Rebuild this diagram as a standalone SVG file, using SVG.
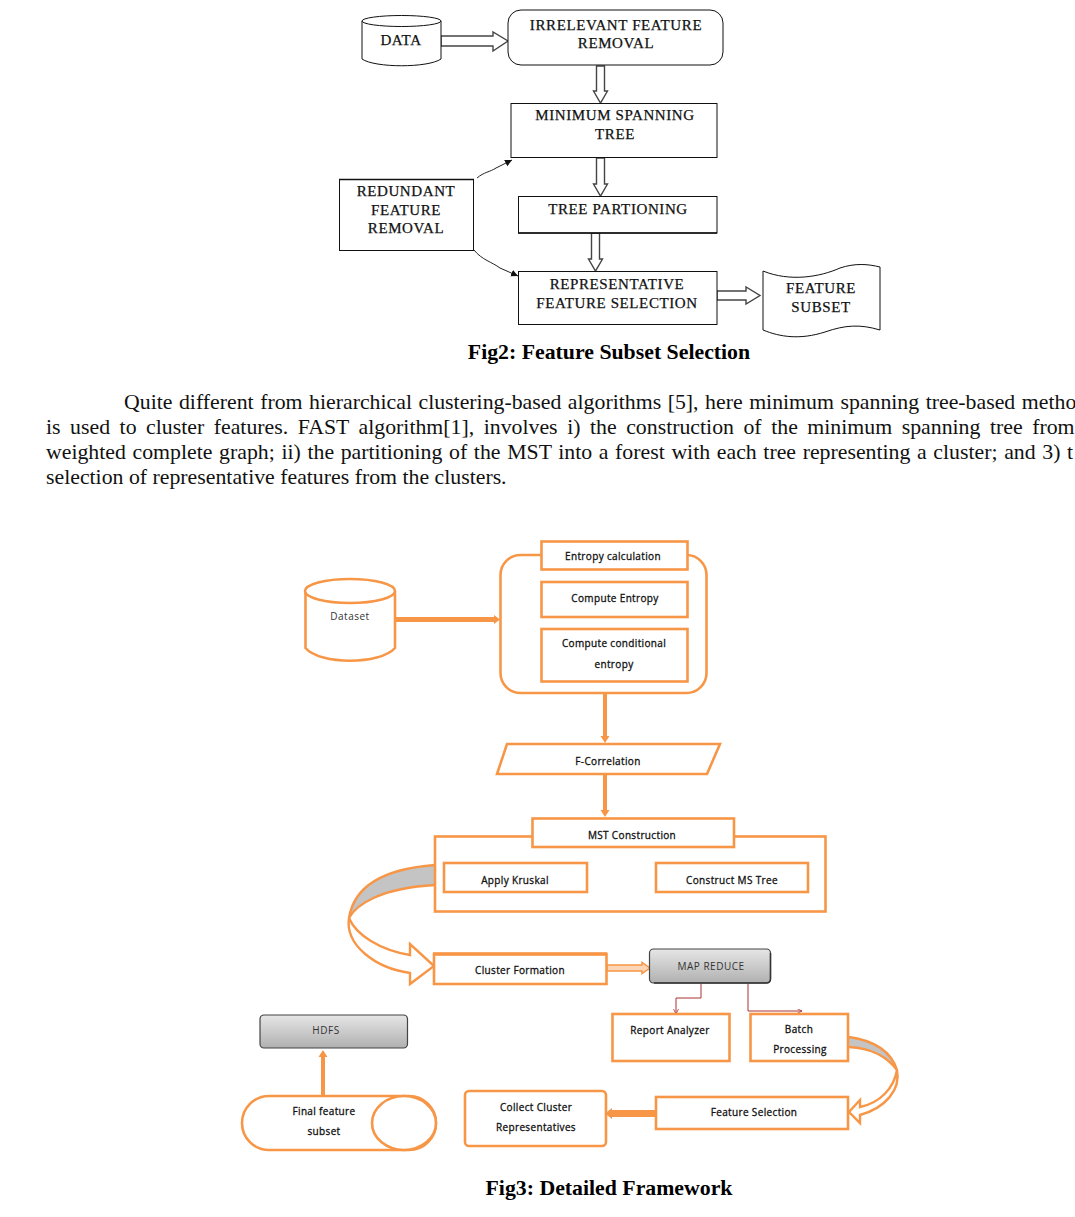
<svg xmlns="http://www.w3.org/2000/svg" width="1075" height="1217" viewBox="0 0 1075 1217">
<style>
.k{fill:#fff;stroke:#111;stroke-width:1}
.ka{fill:#fff;stroke:#444;stroke-width:1.400}
.s{font-family:"Liberation Serif",serif;fill:#111;stroke:#111;stroke-width:.25;text-anchor:middle;font-size:15px;letter-spacing:.6px}
.cap{font-family:"Liberation Serif",serif;font-weight:bold;font-size:21.800px;fill:#000;text-anchor:middle}
.p{font-family:"Liberation Serif",serif;font-size:21.800px;fill:#111}
.o{fill:#fff;stroke:#f79646;stroke-width:2.600}
.of{fill:#f79646;stroke:none}
.g{fill:#c4c4c4;stroke:none}
.c{font-family:"Open Sans","DejaVu Sans",sans-serif;font-size:10px;fill:#111;stroke:#111;stroke-width:.3;text-anchor:middle;letter-spacing:.35px}
.l{font-family:"Open Sans","DejaVu Sans",sans-serif;font-size:10px;fill:#333;text-anchor:middle;letter-spacing:.5px}
.gb{stroke:#444;stroke-width:1.200}
.t{fill:none;stroke:#a33;stroke-width:1}
.band{fill:none;stroke:#f79646;stroke-width:2.400}
</style>
<defs>
<linearGradient id="gr" x1="0" y1="0" x2="0" y2="1"><stop offset="0" stop-color="#e6e6e6"/><stop offset="1" stop-color="#b0b0b0"/></linearGradient>
<marker id="bk" markerWidth="8" markerHeight="8" refX="7" refY="3.500" orient="auto"><path d="M0 0L7 3.500L0 7z" fill="#111"/></marker>
<marker id="rd" markerWidth="6" markerHeight="6" refX="5" refY="2.500" orient="auto"><path d="M0 0L5 2.500L0 5" fill="none" stroke="#a33" stroke-width=".8"/></marker>
</defs>

<g id="connectors">
<path class="ka" d="M441 36H493V32L508 41L493 51V46H441z"/>
<path class="ka" d="M596.500 66H604.500V91H607.500L600.500 103L593.500 91H596.500z"/>
<path class="ka" d="M596.500 158H604.500V184H607.500L600.500 196L593.500 184H596.500z"/>
<path class="ka" d="M591.500 233H599.500V259H602.500L595.500 271L588.500 259H591.500z"/>
<path class="ka" d="M717 291H746V287L760 295.500L746 304V300H717z"/>
<path d="M477 178C484 172 490 172 496 168L512 160" fill="none" stroke="#222" marker-end="url(#bk)"/>
<path d="M474 250C482 260 492 262 500 268L518 276" fill="none" stroke="#222" marker-end="url(#bk)"/>

<path class="of" d="M395 617H494V615L500 619.500L494 624V622H395z"/>
<path class="of" d="M603 693H607V736H609.500L605 743L600.500 736H603z"/>
<path class="of" d="M603 774H607V810H609.500L605 817L600.500 810H603z"/>
<path d="M607 965H642V962.500L650 968L642 973.500V971H607z" fill="#fbd5b5" stroke="#f79646" stroke-width="1.500"/>
<path class="of" d="M321 1095V1057H318.500L323 1050L327.500 1057H325V1095z"/>
<path class="of" d="M656 1110V1117H612V1119L605 1113.500L612 1108V1110z"/>
<path class="t" d="M701 984V998H676V1014" marker-end="url(#rd)"/>
<path class="t" d="M748 984V1011H802" marker-end="url(#rd)"/>

<path class="g" d="M435 865C395 868 355 880 349 918C356 905 380 888 435 885z"/>
<path class="band" d="M435 865C395 868 355 880 349 918C356 905 380 888 435 885M349 918C345 945 375 968 410 973V984L434 966L410 944V955C380 950 356 935 349 918"/>
<path class="g" d="M849 1037C870 1040 890 1048 897 1070C888 1058 872 1048 849 1047z"/>
<path class="band" d="M849 1037C870 1040 890 1048 897 1070C888 1058 872 1048 849 1047M897 1070C901 1090 885 1108 860 1115V1123L849 1112L860 1100V1107C880 1103 894 1088 897 1070"/>
</g>

<g id="data"><path class="k" d="M362 21V59C375 68 428 68 441 59V21"/><ellipse class="k" cx="401.500" cy="21" rx="39.500" ry="5.500"/><text class="s" x="401" y="45">DATA</text></g>
<g id="irrelevant"><rect class="k" x="508" y="10" width="215" height="55" rx="13"/><text class="s" x="616" y="30">IRRELEVANT FEATURE</text><text class="s" x="616" y="48">REMOVAL</text></g>
<g id="mst"><rect class="k" x="511" y="103.500" width="206" height="54"/><text class="s" x="615" y="120">MINIMUM SPANNING</text><text class="s" x="615" y="139">TREE</text></g>
<g id="partition"><rect class="k" x="518.500" y="196.500" width="198.500" height="36.500"/><path d="M518 233H717" stroke="#111" stroke-width="1.500"/><text class="s" x="618" y="214">TREE PARTIONING</text></g>
<g id="redundant"><rect class="k" x="339.500" y="179.500" width="134" height="71"/><path d="M339 179.500H474" stroke="#111" stroke-width="1.500"/><text class="s" x="406" y="196">REDUNDANT</text><text class="s" x="406" y="215">FEATURE</text><text class="s" x="406" y="233">REMOVAL</text></g>
<g id="representative"><rect class="k" x="518.500" y="271.500" width="198.500" height="53"/><text class="s" x="617" y="289">REPRESENTATIVE</text><text class="s" x="617" y="308">FEATURE SELECTION</text></g>
<g id="subset"><path class="k" d="M763 271C790 282 820 277 840 268C855 263 868 264 880 267V330C860 324 845 325 825 332C800 340 780 337 763 330z"/><text class="s" x="821" y="293">FEATURE</text><text class="s" x="821" y="312">SUBSET</text></g>

<text class="cap" x="609" y="359">Fig2: Feature Subset Selection</text>
<text class="p" x="124" y="409" word-spacing="1.100">Quite different from hierarchical clustering-based algorithms [5], here minimum spanning tree-based metho</text>
<text class="p" x="46" y="434" word-spacing="4.100">is used to cluster features. FAST algorithm[1], involves i) the construction of the minimum spanning tree from</text>
<text class="p" x="46" y="459" word-spacing="1.200">weighted complete graph; ii) the partitioning of the MST into a forest with each tree representing a cluster; and 3) t</text>
<text class="p" x="46" y="484">selection of representative features from the clusters.</text>

<g id="dataset"><path class="o" d="M305.500 591V648C320 665 380 665 395 648V591"/><ellipse class="o" cx="350" cy="591" rx="45" ry="12"/><text class="l" x="350" y="620">Dataset</text></g>
<g id="entropy"><rect class="o" x="500.500" y="555" width="206" height="138" rx="20"/></g>
<g id="entropycalc"><rect class="o" x="541.500" y="541.500" width="146" height="28"/><text class="c" x="613" y="560">Entropy calculation</text></g>
<g id="computeentropy"><rect class="o" x="541.500" y="582" width="146" height="35"/><text class="c" x="615" y="602">Compute Entropy</text></g>
<g id="conditional"><rect class="o" x="541.500" y="629" width="146" height="52.500"/><text class="c" x="614" y="647">Compute conditional</text><text class="c" x="614" y="668">entropy</text></g>
<g id="fcorrelation"><path class="o" d="M507 744H720L707 774H497z"/><text class="c" x="608" y="765">F-Correlation</text></g>
<g id="mstcontainer"><rect class="o" x="435" y="836.500" width="390.500" height="75"/></g>
<g id="mstconstruction"><rect class="o" x="532.500" y="818.500" width="201.500" height="28.500"/><text class="c" x="632" y="839">MST Construction</text></g>
<g id="kruskal"><rect class="o" x="444" y="863" width="143" height="29"/><text class="c" x="515" y="884">Apply Kruskal</text></g>
<g id="mstree"><rect class="o" x="656" y="863" width="152" height="29"/><text class="c" x="732" y="884">Construct MS Tree</text></g>
<g id="cluster"><rect class="o" x="434" y="954" width="172.500" height="30"/><path d="M433 954H607" stroke="#f79646" stroke-width="3.500"/><text class="c" x="520" y="974">Cluster Formation</text></g>
<g id="mapreduce"><rect x="649.500" y="949" width="121" height="34" rx="4" fill="url(#gr)" class="gb"/><path d="M770.500 953V979Q770.500 983 766 983H654" fill="none" stroke="#333" stroke-width="1.500"/><text class="l" x="711" y="970">MAP REDUCE</text></g>
<g id="report"><rect class="o" x="612.500" y="1014" width="117" height="47"/><text class="c" x="670" y="1034">Report Analyzer</text></g>
<g id="batch"><rect class="o" x="750.500" y="1014" width="97.500" height="47"/><text class="c" x="799" y="1033">Batch</text><text class="c" x="800" y="1053">Processing</text></g>
<g id="featureselection"><rect class="o" x="656" y="1097" width="192" height="32"/><text class="c" x="754" y="1116">Feature Selection</text></g>
<g id="collect"><rect class="o" x="465" y="1091" width="141" height="55" rx="4"/><text class="c" x="536" y="1111">Collect Cluster</text><text class="c" x="536" y="1131">Representatives</text></g>
<g id="hdfs"><rect x="260" y="1015" width="147.500" height="33" rx="4" fill="url(#gr)" class="gb"/><text class="l" x="326" y="1034">HDFS</text></g>
<g id="finalsubset"><rect class="o" x="242" y="1096" width="194" height="54" rx="27"/><ellipse class="o" cx="404" cy="1123" rx="32" ry="27"/><text class="c" x="324" y="1115">Final feature</text><text class="c" x="324" y="1135">subset</text></g>
<text class="cap" x="609" y="1195">Fig3: Detailed Framework</text>
</svg>
